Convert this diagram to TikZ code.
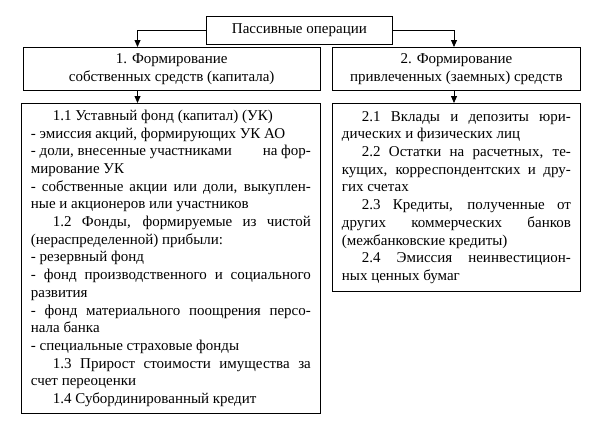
\documentclass[tikz,border=0pt]{standalone}
\usepackage{fontspec}
\setmainfont{Liberation Serif}
\usetikzlibrary{arrows.meta,calc}
\tikzset{
  box/.style={draw, line width=0.8pt, inner sep=0pt, anchor=north west},
  txt/.style={font=\fontsize{15}{17.7}\selectfont},
  arr/.style={line width=0.8pt, -{Triangle[length=7pt,width=6pt]}},
  para/.style={align=justify, execute at begin node={\tolerance=10000\hyphenpenalty=10000\exhyphenpenalty=10000\emergencystretch=0pt}}
}
\begin{document}
\begin{tikzpicture}[x=1pt,y=-1pt]
\useasboundingbox (0,0) rectangle (589,421);
\node[box, txt, minimum width=186pt, minimum height=28pt] (top) at (206,16) {Пассивные операции};
\node[box, txt, align=center, minimum width=297.5pt, minimum height=43pt] (b1) at (22.5,47) {1. Формирование\\собственных средств (капитала)};
\node[box, txt, align=center, minimum width=248pt, minimum height=43pt] (b2) at (332,47) {2. Формирование\\привлеченных (заемных) средств};
\node[box, txt, para, text width=280pt, inner xsep=9.5pt, minimum height=310pt] (b3) at (21,103) {%
\hspace*{22pt}1.1 Уставный фонд (капитал) (УК)\par
- эмиссия акций, формирующих УК АО\par
- доли, внесенные участниками\hfill на фор-\linebreak мирование УК\par
- собственные акции или доли, выкуплен-\linebreak ные и акционеров или участников\par
\hspace*{22pt}1.2 Фонды, формируемые из чистой\linebreak (нераспределенной) прибыли:\par
- резервный фонд\par
- фонд производственного и социального\linebreak развития\par
- фонд материального поощрения персо-\linebreak нала банка\par
- специальные страховые фонды\par
\hspace*{22pt}1.3 Прирост стоимости имущества за\linebreak счет переоценки\par
\hspace*{22pt}1.4 Субординированный кредит};
\node[box, txt, para, text width=229pt, inner xsep=9.5pt, minimum height=188pt] (b4) at (332,103) {%
\hspace*{20pt}2.1 Вклады и депозиты юри-\linebreak дических и физических лиц\par
\hspace*{20pt}2.2 Остатки на расчетных, те-\linebreak кущих, корреспондентских и дру-\linebreak гих счетах\par
\hspace*{20pt}2.3 Кредиты, полученные от\linebreak других коммерческих банков\linebreak (межбанковские кредиты)\par
\hspace*{20pt}2.4 Эмиссия неинвестицион-\linebreak ных ценных бумаг};
\draw[arr] (top.west) -| ([xshift=115pt]b1.north west);
\draw[arr] (top.east) -| ([xshift=122pt]b2.north west);
\draw[arr] ([xshift=115pt]b1.south west) -- ([xshift=115pt]b1.south west |- b3.north);
\draw[arr] ([xshift=122pt]b2.south west) -- ([xshift=122pt]b2.south west |- b4.north);
\end{tikzpicture}
\end{document}
